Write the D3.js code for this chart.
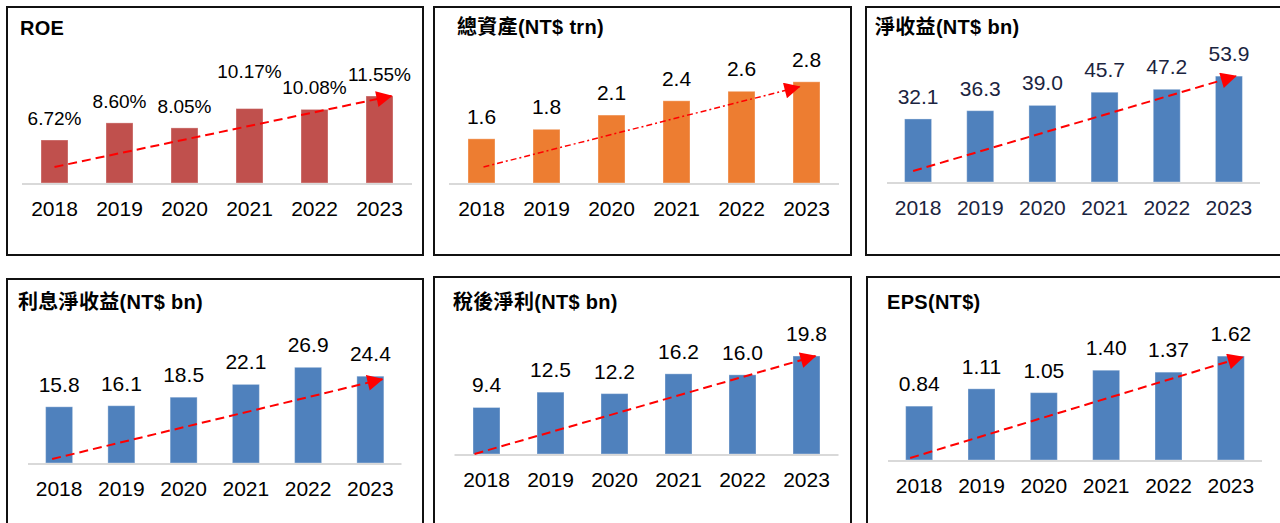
<!DOCTYPE html>
<html>
<head>
<meta charset="utf-8">
<script src="https://cdn.jsdelivr.net/npm/d3@7"></script>
<style>
  body { margin: 0; background: #fff; }
  svg { display: block; font-family: "Liberation Sans", Arial, "Noto Sans CJK TC", sans-serif; }
</style>
</head>
<body>
<div id="chart"></div>
<script>
const years = ["2018", "2019", "2020", "2021", "2022", "2023"];

const roeValues = [6.72, 8.60, 8.05, 10.17, 10.08, 11.55];
const assetValues = [1.6, 1.8, 2.1, 2.4, 2.6, 2.8];
const revenueValues = [32.1, 36.3, 39.0, 45.7, 47.2, 53.9];
const interestValues = [15.8, 16.1, 18.5, 22.1, 26.9, 24.4];
const profitValues = [9.4, 12.5, 12.2, 16.2, 16.0, 19.8];
const epsValues = [0.84, 1.11, 1.05, 1.40, 1.37, 1.62];

const titles = ["ROE", "總資產(NT$ trn)", "淨收益(NT$ bn)", "利息淨收益(NT$ bn)", "稅後淨利(NT$ bn)", "EPS(NT$)"];
const formats = [d => d.toFixed(2) + "%", d => d.toFixed(1), d => d.toFixed(1), d => d.toFixed(1), d => d.toFixed(1), d => d.toFixed(2)];

// layout of each panel (box, title, plot range, axis scale)
const panels = [
  { values: roeValues, box: [7, 7, 423, 255], title: [20, 35], xr: [22, 412], base: 183, dom: [2, 17.7],
    color: "#c0504d", text: "#000", fs: 19, from: [0, 16], to: [12, 0], dash: "9,5", sw: 2 },
  { values: assetValues, box: [434, 7, 851, 255], title: [457, 34], xr: [449, 839], base: 183, dom: [0.67, 3.68],
    color: "#ed7d31", text: "#000", fs: 21, from: [2, 16], to: [-7, 5], dash: "6,3,2,3", sw: 1.5 },
  { values: revenueValues, box: [866, 7, 1290, 255], title: [875, 34], xr: [887, 1260], base: 182, dom: [0, 72.8],
    color: "#4f81bd", text: "#1b2440", fs: 21, from: [-5, 11], to: [7, 0], dash: "9,5", sw: 2 },
  { values: interestValues, box: [7, 279, 423, 530], title: [18, 309], xr: [28, 401.5], base: 463, dom: [0, 40.2],
    color: "#4f81bd", text: "#000", fs: 21, from: [-7, 4], to: [12, 3], dash: "9,5", sw: 2 },
  { values: profitValues, box: [434, 277, 851, 530], title: [453, 309], xr: [454.5, 838.5], base: 454, dom: [0, 28.9],
    color: "#4f81bd", text: "#000", fs: 21, from: [-12, 0], to: [9, 0], dash: "9,5", sw: 2 },
  { values: epsValues, box: [867, 277, 1290, 530], title: [887, 309], xr: [888, 1262], base: 460, dom: [0, 2.23],
    color: "#4f81bd", text: "#000", fs: 21, from: [-9, 2], to: [12, 1], dash: "9,5", sw: 2 }
];

const svg = d3.select("#chart")
  .append("svg")
  .attr("width", 1280)
  .attr("height", 523);

svg.append("defs")
  .append("marker")
  .attr("id", "arrow")
  .attr("viewBox", "0 0 16 16")
  .attr("refX", 15)
  .attr("refY", 8)
  .attr("markerWidth", 17)
  .attr("markerHeight", 16)
  .attr("markerUnits", "userSpaceOnUse")
  .attr("orient", "auto")
  .append("path")
  .attr("d", "M0,0 L16,8 L0,16 Z")
  .attr("fill", "#ff0000");

panels.forEach((p, i) => {
  const g = svg.append("g");

  g.append("rect")
    .attr("x", p.box[0])
    .attr("y", p.box[1])
    .attr("width", p.box[2] - p.box[0])
    .attr("height", p.box[3] - p.box[1])
    .attr("fill", "none")
    .attr("stroke", "#111")
    .attr("stroke-width", 2);

  g.append("text")
    .attr("x", p.title[0])
    .attr("y", p.title[1])
    .style("font-size", "20px")
    .style("font-weight", "bold")
    .style("letter-spacing", "0.3px")
    .attr("fill", "#000")
    .text(titles[i]);

  const step = (p.xr[1] - p.xr[0]) / years.length;
  const pad = 1 - 27 / step;
  const x = d3.scaleBand()
    .domain(years)
    .range(p.xr)
    .paddingInner(pad)
    .paddingOuter(pad / 2);

  const y = d3.scaleLinear()
    .domain(p.dom)
    .range([p.base, p.base - 143]);

  const data = years.map((yr, k) => ({ year: yr, value: p.values[k] }));

  g.selectAll("rect.bar")
    .data(data)
    .join("rect")
    .attr("class", "bar")
    .attr("x", d => x(d.year))
    .attr("y", d => y(d.value))
    .attr("width", x.bandwidth())
    .attr("height", d => p.base - y(d.value))
    .attr("fill", p.color)
    .attr("stroke", "#fff")
    .attr("stroke-opacity", 0.35)
    .attr("stroke-width", 1);

  // baseline
  g.append("line")
    .attr("x1", p.xr[0])
    .attr("x2", p.xr[1])
    .attr("y1", p.base + 1)
    .attr("y2", p.base + 1)
    .attr("stroke", "#d9d9d9")
    .attr("stroke-width", 2);

  const labels = g.selectAll("text.val")
    .data(data)
    .join("text")
    .attr("class", "val")
    .attr("x", d => x(d.year) + x.bandwidth() / 2)
    .attr("y", d => y(d.value) - 15)
    .attr("text-anchor", "middle")
    .style("font-size", p.fs + "px")
    .attr("fill", p.text)
    .text(d => formats[i](d.value));

  // lift a label when it would crowd its right neighbour
  const nodes = labels.nodes();
  nodes.forEach((n, k) => {
    if (k === nodes.length - 1) return;
    const w = (n.getComputedTextLength() + nodes[k + 1].getComputedTextLength()) / 2;
    const dy = Math.abs(+n.getAttribute("y") - +nodes[k + 1].getAttribute("y"));
    if (w + 6 > step && dy < 12) n.setAttribute("y", +n.getAttribute("y") - 16);
  });

  g.selectAll("text.cat")
    .data(years)
    .join("text")
    .attr("class", "cat")
    .attr("x", d => x(d) + x.bandwidth() / 2)
    .attr("y", p.base + 33)
    .attr("text-anchor", "middle")
    .style("font-size", "21px")
    .attr("fill", p.text)
    .text(d => d);

  // trend arrow from first bar to last bar
  const first = years[0], last = years[years.length - 1];
  g.append("line")
    .attr("x1", x(first) + x.bandwidth() / 2 + p.from[0])
    .attr("y1", p.base - p.from[1])
    .attr("x2", x(last) + x.bandwidth() / 2 + p.to[0])
    .attr("y2", y(p.values[p.values.length - 1]) + p.to[1])
    .attr("stroke", "#ff0000")
    .attr("stroke-width", p.sw)
    .attr("stroke-dasharray", p.dash)
    .attr("marker-end", "url(#arrow)");
});
</script>
</body>
</html>
